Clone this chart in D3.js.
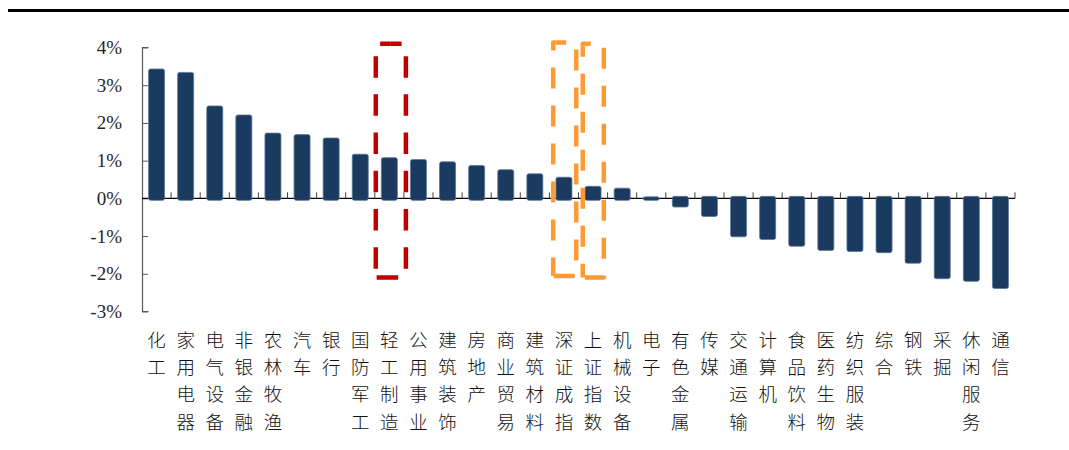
<!DOCTYPE html>
<html>
<head>
<meta charset="utf-8">
<script src="https://cdn.jsdelivr.net/npm/d3@7/dist/d3.min.js"></script>
<style>
html,body{margin:0;padding:0;background:#fff;}
svg{display:block;}
</style>
</head>
<body>
<svg id="chart" width="1069" height="450"></svg>
<script>
const categories = ["化工","家用电器","电气设备","非银金融","农林牧渔","汽车","银行","国防军工","轻工制造","公用事业","建筑装饰","房地产","商业贸易","建筑材料","深证成指","上证指数","机械设备","电子","有色金属","传媒","交通运输","计算机","食品饮料","医药生物","纺织服装","综合","钢铁","采掘","休闲服务","通信"];
const values = [3.43,3.34,2.45,2.21,1.73,1.69,1.60,1.17,1.08,1.03,0.97,0.87,0.76,0.65,0.56,0.32,0.27,0.04,-0.23,-0.48,-1.02,-1.09,-1.27,-1.38,-1.41,-1.44,-1.72,-2.13,-2.20,-2.39];
const yTicks = [4,3,2,1,0,-1,-2,-3];
const yTickLabels = ["4%","3%","2%","1%","0%","-1%","-2%","-3%"];
const redHighlight = ["轻工制造"];
const orangeHighlight = ["深证成指","上证指数"];

const svg = d3.select("#chart");

const x = d3.scaleBand().domain(categories).range([142, 1015]).padding(0);
const y = d3.scaleLinear().domain([-3, 4]).range([311.5, 47.5]);
const y0 = y(0);
const bw = x.bandwidth();
const barW = 16;

// top rule
svg.append("rect").attr("x", 8).attr("y", 9).attr("width", 1061).attr("height", 3).attr("fill", "#000");

// y axis
const yAxis = svg.append("g").attr("transform", "translate(142,0)")
  .call(d3.axisRight(y).tickValues(yTicks).tickSize(6).tickFormat(""));
yAxis.select(".domain").attr("stroke", "#595959").attr("stroke-width", 1.2).attr("d", `M6.5,${y(4)}H0.5V${y(-3)}H6.5`);
yAxis.selectAll(".tick line").attr("stroke", "#595959");

svg.append("g").selectAll("text").data(yTicks).join("text")
  .attr("x", 122).attr("y", d => y(d)).attr("dy", "0.34em")
  .attr("text-anchor", "end")
  .attr("font-family", "'Liberation Serif','Times New Roman',serif")
  .attr("font-size", 19).attr("fill", "#262626")
  .text((d, i) => yTickLabels[i]);

// x axis (zero line)
svg.append("line").attr("x1", 142).attr("x2", 1015).attr("y1", y0).attr("y2", y0)
  .attr("stroke", "#000").attr("stroke-width", 1.2);
svg.append("g").selectAll("line").data(categories).join("line")
  .attr("x1", d => x(d) + bw).attr("x2", d => x(d) + bw)
  .attr("y1", y0).attr("y2", y0 - 6)
  .attr("stroke", "#404040").attr("stroke-width", 1);

// bars
svg.append("g").selectAll("rect").data(categories).join("rect")
  .attr("x", d => x(d) + (bw - barW) / 2)
  .attr("width", barW)
  .attr("y", (d, i) => values[i] >= 0 ? y(values[i]) : y0 - 2)
  .attr("height", (d, i) => Math.abs(y(values[i]) - y0) + 2)
  .attr("rx", 2).attr("ry", 2)
  .attr("fill", "#1b3a5f")
  .attr("stroke", "#5b7696").attr("stroke-width", 0.8);

// category labels (vertical stacked characters)
const lab = svg.append("g").selectAll("text").data(categories).join("text")
  .attr("text-anchor", "middle")
  .attr("font-family", "'Noto Sans CJK SC','Noto Sans CJK JP',sans-serif")
  .attr("font-size", 18.5).attr("font-weight", 300).attr("fill", "#111");
lab.each(function (d) {
  const t = d3.select(this);
  Array.from(d).forEach((ch, k) => {
    t.append("tspan").attr("x", x(d) + bw / 2).attr("y", 339.5 + k * 27.4 + 7).text(ch);
  });
});

// dashed highlight boxes: two strokes from a start point, meeting at bottom-left corner
function pointAt(b, d) {
  const w = b.x1 - b.x0, h = b.y1 - b.y0, L = 2 * (w + h);
  d = ((d % L) + L) % L;
  if (d < w) return [b.x0 + d, b.y0];
  if (d < w + h) return [b.x1, b.y0 + d - w];
  if (d < 2 * w + h) return [b.x1 - (d - w - h), b.y1];
  return [b.x0, b.y1 - (d - 2 * w - h)];
}
function pathBetween(b, a, e) {
  const w = b.x1 - b.x0, h = b.y1 - b.y0, L = 2 * (w + h);
  const lo = Math.min(a, e), hi = Math.max(a, e);
  let ds = [];
  [0, w, w + h, 2 * w + h].forEach(c => {
    for (let n = -2; n <= 2; n++) {
      const v = c + n * L;
      if (v > lo + 1e-6 && v < hi - 1e-6) ds.push(v);
    }
  });
  ds.sort((p, q) => e > a ? p - q : q - p);
  const pts = [a, ...ds, e].map(d => pointAt(b, d));
  return "M" + pts.map(p => p[0].toFixed(2) + "," + p[1].toFixed(2)).join("L");
}
function dashedBox(b, s, color, dash, gap, sw) {
  const w = b.x1 - b.x0, h = b.y1 - b.y0;
  [[s, 2 * w + h], [s, -h]].forEach(([a, e]) => {
    svg.append("path").attr("d", pathBetween(b, a, e))
      .attr("fill", "none").attr("stroke", color).attr("stroke-width", sw)
      .attr("stroke-dasharray", `${dash} ${gap}`)
      .attr("stroke-dashoffset", dash / 2)
      .attr("stroke-linejoin", "round");
  });
}

redHighlight.forEach(c => {
  const b = { x0: x(c) + 1, x1: x(c) + bw + 2, y0: y(4.1), y1: y(-2.1) };
  dashedBox(b, (b.x1 - b.x0) / 2, "#c00000", 21.5, 16.7, 4.5);
});
const orangeOff = [[3.8, 26.8, 4.13, -2.06, 2.5], [4.3, 25.3, 4.1, -2.1, -2.6]];
orangeHighlight.forEach((c, i) => {
  const o = orangeOff[i];
  const b = { x0: x(c) + o[0], x1: x(c) + o[1], y0: y(o[2]), y1: y(o[3]) };
  dashedBox(b, o[4], "#ff9933", 21, 17, 4.5);
});
</script>
</body>
</html>
